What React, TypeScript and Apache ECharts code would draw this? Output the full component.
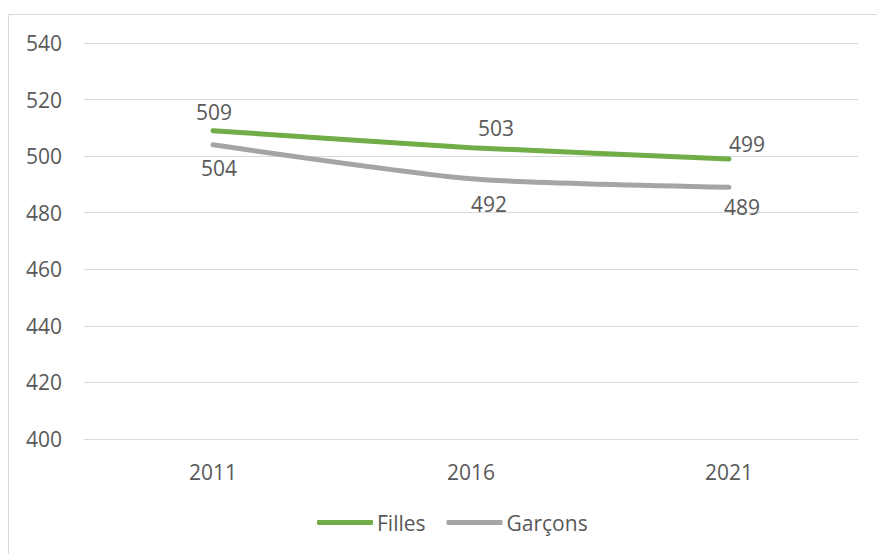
import React, { useEffect, useRef } from "react";
import * as echarts from "echarts";

const categories = ["2011", "2016", "2021"];
const filles = [509, 503, 499];
const garcons = [504, 492, 489];
const yTicks = { min: 400, max: 540, interval: 20 };

const fillesLabelOffsets = [[1, -19], [25, -20], [18, -15]];
const garconsLabelOffsets = [[6, 23], [18, 25], [13, 20]];

const FONT = "'Open Sans', 'Noto Sans', sans-serif";
const TEXT = "#595959";
const FS = 21;

function withLabels(values: number[], offsets: number[][]) {
  return values.map((v, i) => ({
    value: v,
    label: { offset: offsets[i] },
  }));
}

export default function App() {
  const ref = useRef<HTMLDivElement>(null);
  useEffect(() => {
    if (!ref.current) return;
    const chart = echarts.init(ref.current, undefined, { renderer: "svg" });
    const labelBase = {
      show: true,
      position: "inside",
      color: TEXT,
      fontFamily: FONT,
      fontSize: FS,
    };
    chart.setOption({
      animation: false,
      backgroundColor: "#ffffff",
      graphic: [
        {
          type: "rect",
          shape: { x: 8.5, y: 14.5, width: 900, height: 600 },
          style: { fill: "none", stroke: "#d9d9d9", lineWidth: 1 },
          silent: true,
          z: -10,
        },
      ],
      grid: { left: 84, right: 19, top: 43, bottom: 115, containLabel: false },
      xAxis: {
        type: "category",
        data: categories,
        boundaryGap: true,
        axisLine: { show: true, lineStyle: { color: "#d9d9d9", width: 1 } },
        axisTick: { show: false },
        axisLabel: { color: TEXT, fontFamily: FONT, fontSize: FS, margin: 22 },
      },
      yAxis: {
        type: "value",
        min: yTicks.min,
        max: yTicks.max,
        interval: yTicks.interval,
        axisLine: { show: false },
        axisTick: { show: false },
        axisLabel: { color: TEXT, fontFamily: FONT, fontSize: FS, margin: 22 },
        splitLine: { lineStyle: { color: "#d9d9d9", width: 1 } },
      },
      legend: {
        bottom: 16,
        left: 312,
        itemWidth: 56,
        itemHeight: 5,
        itemGap: 21,
        icon: "roundRect",
        textStyle: { color: TEXT, fontFamily: FONT, fontSize: FS, padding: [0, 0, 0, -1] },
        data: ["Filles", "Garçons"],
      },
      series: [
        {
          name: "Filles",
          type: "line",
          data: withLabels(filles, fillesLabelOffsets),
          smooth: 0.2,
          symbol: "circle",
          symbolSize: 1,
          itemStyle: { color: "#70AD47" },
          lineStyle: { color: "#70AD47", width: 5, cap: "round" },
          label: labelBase,
          z: 3,
        },
        {
          name: "Garçons",
          type: "line",
          data: withLabels(garcons, garconsLabelOffsets),
          smooth: 0.2,
          symbol: "circle",
          symbolSize: 1,
          itemStyle: { color: "#A5A5A5" },
          lineStyle: { color: "#A5A5A5", width: 5, cap: "round" },
          label: labelBase,
          z: 2,
        },
      ],
    });
    return () => chart.dispose();
  }, []);
  return (
    <div
      ref={ref}
      style={{ position: "absolute", left: 0, top: 0, width: 877, height: 554 }}
    />
  );
}
